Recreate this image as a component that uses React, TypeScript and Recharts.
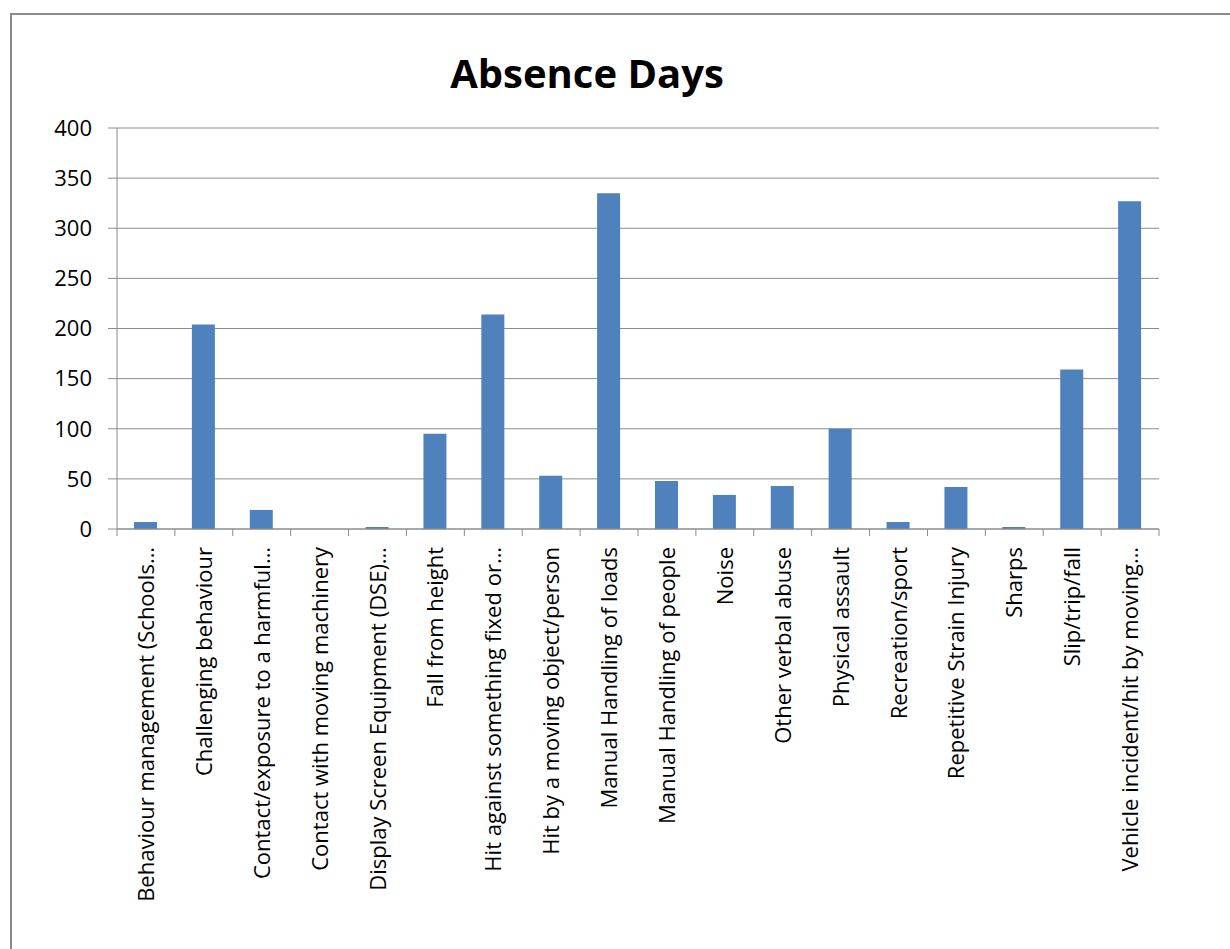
import React from "react";
import { Bar, BarChart, CartesianGrid, XAxis, YAxis } from "recharts";

const categories = [
    "Behaviour management (Schools…",
    "Challenging behaviour",
    "Contact/exposure to a harmful…",
    "Contact with moving machinery",
    "Display Screen Equipment (DSE)…",
    "Fall from height",
    "Hit against something fixed or…",
    "Hit by a moving object/person",
    "Manual Handling of loads",
    "Manual Handling of people",
    "Noise",
    "Other verbal abuse",
    "Physical assault",
    "Recreation/sport",
    "Repetitive Strain Injury",
    "Sharps",
    "Slip/trip/fall",
    "Vehicle incident/hit by moving…",
];

const absenceDays = [7, 204, 19, 0, 2, 95, 214, 53, 335, 48, 34, 43, 100, 7, 42, 2, 159, 327];

const yTicks = [0, 50, 100, 150, 200, 250, 300, 350, 400];

const data = categories.map((name, i) => ({ name, days: absenceDays[i] }));

const FONT = "'Open Sans', Lato, sans-serif";
const AXIS = "#8c8c8c";

const CHART_W = 1230;
const CHART_H = 949;
const PLOT_LEFT = 117;
const PLOT_RIGHT = 71;
const BAND = (CHART_W - PLOT_LEFT - PLOT_RIGHT) / categories.length;

const CategoryTick = (props: any) => {
    const { x, y, payload, index } = props;
    const left = x - BAND / 2;
    return (
        <g>
            <line x1={left} y1={y - 8} x2={left} y2={y - 1} stroke={AXIS} />
            {index === categories.length - 1 && (
                <line x1={left + BAND} y1={y - 8} x2={left + BAND} y2={y - 1} stroke={AXIS} />
            )}
            <text
                x={0}
                y={0}
                transform={`translate(${x + 8},${y + 10}) rotate(-90)`}
                textAnchor="end"
                fontSize={22}
                fontFamily={FONT}
                fill="#000"
            >
                {payload.value}
            </text>
        </g>
    );
};

export default function App() {
    return (
        <div style={{ position: "fixed", left: 0, top: 0, width: CHART_W, height: CHART_H, overflow: "hidden", background: "#fff" }}>
            <div
                style={{
                    position: "absolute",
                    left: 10,
                    top: 13,
                    width: CHART_W,
                    height: CHART_H,
                    borderTop: "2px solid #8a8a8a",
                    borderLeft: "2px solid #8a8a8a",
                }}
            />
            <div
                style={{
                    position: "absolute",
                    left: 0,
                    width: 1174,
                    top: 45,
                    textAlign: "center",
                    fontFamily: FONT,
                    fontWeight: 700,
                    fontSize: 40,
                    color: "#000",
                }}
            >
                Absence Days
            </div>
            <div style={{ position: "absolute", left: 0, top: 0 }}>
                <BarChart
                    width={CHART_W}
                    height={CHART_H}
                    data={data}
                    barSize={23}
                    margin={{ top: 128, right: PLOT_RIGHT, left: 0, bottom: 0 }}
                >
                    <CartesianGrid vertical={false} stroke={AXIS} />
                    <XAxis
                        dataKey="name"
                        interval={0}
                        height={420}
                        stroke={AXIS}
                        tickLine={false}
                        tick={<CategoryTick />}
                    />
                    <YAxis
                        width={PLOT_LEFT}
                        domain={[0, 400]}
                        ticks={yTicks}
                        stroke={AXIS}
                        tickSize={9}
                        tickMargin={16}
                        tick={{ fill: "#000", fontSize: 22, fontFamily: FONT }}
                    />
                    <Bar dataKey="days" fill="#4f81bd" isAnimationActive={false} />
                </BarChart>
            </div>
        </div>
    );
}
